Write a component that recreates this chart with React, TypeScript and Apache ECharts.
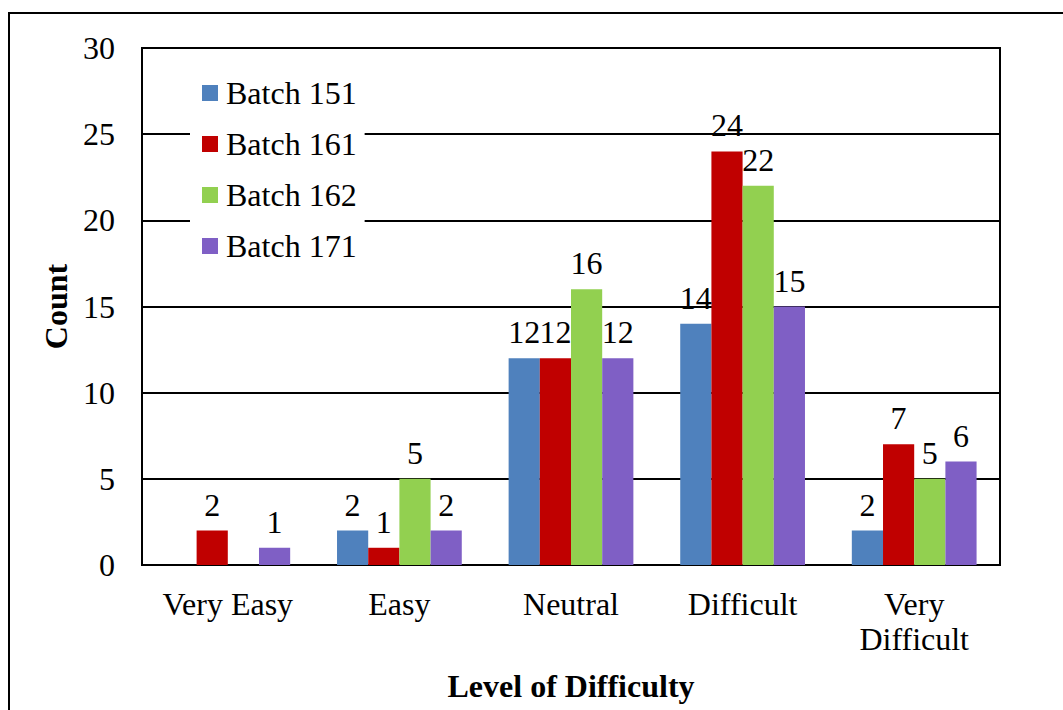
import React, { useEffect, useRef } from "react";
import * as echarts from "echarts";

const categories = ["Very Easy", "Easy", "Neutral", "Difficult", "Very Difficult"];
const seriesNames = ["Batch 151", "Batch 161", "Batch 162", "Batch 171"];
const batch151 = [0, 2, 12, 14, 2];
const batch161 = [2, 1, 12, 24, 7];
const batch162 = [0, 5, 16, 22, 5];
const batch171 = [1, 2, 12, 15, 6];
const colors = ["#4F81BD", "#C00000", "#92D050", "#7F5FC5"];
const yTicks = { min: 0, max: 30, interval: 5 };

const FONT = "Liberation Serif";
const FS = 32;

export default function App() {
  const ref = useRef<HTMLDivElement>(null);
  useEffect(() => {
    if (!ref.current) return;
    const chart = echarts.init(ref.current, undefined, { renderer: "svg" });
    const values = [batch151, batch161, batch162, batch171];
    chart.setOption({
      animation: false,
      backgroundColor: "#ffffff",
      textStyle: { fontFamily: FONT, color: "#000" },
      graphic: [
        {
          type: "rect",
          shape: { x: 9, y: 13, width: 1100, height: 800 },
          style: { fill: "none", stroke: "#000", lineWidth: 2 },
          silent: true,
        },
      ],
      grid: {
        left: 142,
        top: 48,
        width: 858,
        height: 517,
        show: true,
        borderColor: "#000",
        borderWidth: 2,
        backgroundColor: "transparent",
      },
      legend: {
        orient: "vertical",
        left: 190,
        top: 69,
        backgroundColor: "#ffffff",
        padding: [8, 8, 8, 12],
        itemWidth: 16,
        itemHeight: 16,
        itemGap: 19,
        icon: "rect",
        data: seriesNames,
        textStyle: {
          fontFamily: FONT,
          fontSize: FS,
          color: "#000",
          lineHeight: 32,
          padding: [0, 0, 0, 3],
        },
        z: 20,
      },
      xAxis: {
        type: "category",
        data: categories,
        name: "Level of Difficulty",
        nameLocation: "middle",
        nameGap: 105,
        nameTextStyle: { fontFamily: FONT, fontSize: FS, fontWeight: "bold", color: "#000" },
        axisLine: { lineStyle: { color: "#000", width: 2 } },
        axisTick: { show: false },
        axisLabel: {
          fontFamily: FONT,
          fontSize: FS,
          color: "#000",
          margin: 21,
          lineHeight: 35,
          formatter: (v: string) => (v === "Very Difficult" ? "Very\nDifficult" : v),
        },
      },
      yAxis: {
        type: "value",
        min: yTicks.min,
        max: yTicks.max,
        interval: yTicks.interval,
        name: "Count",
        nameLocation: "middle",
        nameRotate: 90,
        nameGap: 70,
        nameTextStyle: { fontFamily: FONT, fontSize: FS, fontWeight: "bold", color: "#000" },
        axisLine: { show: true, lineStyle: { color: "#000", width: 2 } },
        axisTick: { show: false },
        splitLine: { show: true, lineStyle: { color: "#000", width: 2 } },
        axisLabel: { fontFamily: FONT, fontSize: FS, color: "#000", margin: 27 },
      },
      series: seriesNames.map((name, i) => ({
        name,
        type: "bar",
        data: values[i],
        barGap: "0%",
        barCategoryGap: "27.3%",
        itemStyle: { color: colors[i] },
        label: {
          show: true,
          position: "top",
          distance: 10,
          fontFamily: FONT,
          fontSize: FS,
          color: "#000",
          formatter: (p: any) => (p.value === 0 ? "" : String(p.value)),
        },
      })),
    });
    return () => chart.dispose();
  }, []);
  return (
    <div
      ref={ref}
      style={{ position: "fixed", left: 0, top: 0, width: 1063, height: 710 }}
    />
  );
}
